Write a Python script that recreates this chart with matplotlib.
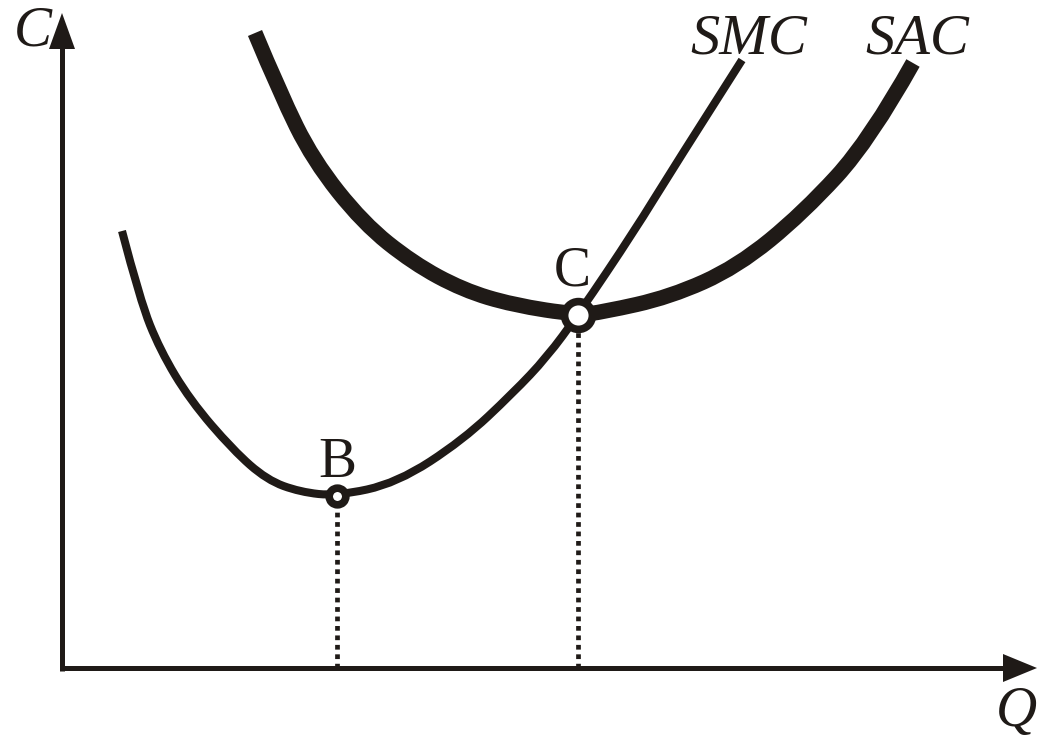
import matplotlib
matplotlib.use("Agg")
import matplotlib.pyplot as plt
from matplotlib.patches import Polygon, PathPatch
from matplotlib.path import Path

# ---- data (in axis units) ----
smc_q = [60, 78, 98, 128, 171, 205, 238, 275, 335, 401, 451, 485, 516, 573, 608, 680]
smc_c = [437, 368, 318, 268, 218, 188, 176, 172, 185, 228, 275, 311, 353, 438, 495, 608]

sac_q = [193, 218, 251, 301, 351, 401, 451, 516, 541, 608, 675, 741, 808, 851]
sac_c = [635, 575, 508, 445, 405, 378, 363, 353, 356, 371, 401, 455, 528, 605]

point_labels = ["B", "C"]
point_q = [275, 516]
point_c = [172, 353]

curve_labels = ["SMC", "SAC"]
axis_labels = ["C", "Q"]

# ---- figure ----
fig = plt.figure(figsize=(10.37, 7.44), dpi=100)
ax = fig.add_axes([0, 0, 1, 1])
ax.set_xlim(-62, 975)
ax.set_ylim(-76, 668)
ax.axis("off")

ink = "#1f1a17"
serif = ["Liberation Serif", "DejaVu Serif"]


def smooth_path(xs, ys):
    """Quadratic Bezier path using the read points as control points."""
    pts = list(zip(xs, ys))
    verts = [pts[0]]
    codes = [Path.MOVETO]
    for i in range(1, len(pts) - 1):
        mid = ((pts[i][0] + pts[i + 1][0]) / 2, (pts[i][1] + pts[i + 1][1]) / 2)
        if i == len(pts) - 2:
            mid = pts[-1]
        verts += [pts[i], mid]
        codes += [Path.CURVE3, Path.CURVE3]
    return Path(verts, codes)


# axes with arrowheads
ax.plot([0, 0], [-2.5, 625], color=ink, lw=3.6, solid_capstyle="butt")
ax.plot([-2.5, 945], [0, 0], color=ink, lw=3.6, solid_capstyle="butt")
ax.add_patch(Polygon([(0, 655), (-13, 619), (13, 619)], closed=True, color=ink, lw=0))
ax.add_patch(Polygon([(975, 0), (941, 14), (941, -14)], closed=True, color=ink, lw=0))

# dotted drop lines
for q, c in zip(point_q, point_c):
    ax.plot([q, q], [0, c - 12], color=ink, lw=3.4, linestyle=(0, (1, 1.0)),
            dash_capstyle="butt")

# curves
ax.add_patch(PathPatch(smooth_path(sac_q, sac_c), fill=False, edgecolor=ink,
                       lw=11.0, capstyle="butt", joinstyle="round"))
ax.add_patch(PathPatch(smooth_path(smc_q, smc_c), fill=False, edgecolor=ink,
                       lw=5.8, capstyle="butt", joinstyle="round"))

# points
ax.plot(point_q[0], point_c[0], "o", ms=12, mfc="white", mec=ink, mew=5.5, zorder=5)
ax.plot(point_q[1], point_c[1], "o", ms=20, mfc="white", mec=ink, mew=5.5, zorder=5)

# point labels
ax.text(point_q[0], 191, point_labels[0], family=serif, fontsize=41,
        ha="center", va="baseline", color=ink)
ax.text(point_q[1] - 6, 383, point_labels[1], family=serif, fontsize=40,
        ha="center", va="baseline", color=ink)

# curve labels
ax.text(687, 615, curve_labels[0], family=serif, style="italic", fontsize=42,
        ha="center", va="baseline", color=ink)
ax.text(855, 615, curve_labels[1], family=serif, style="italic", fontsize=42,
        ha="center", va="baseline", color=ink)

# axis labels
ax.text(-29, 623, axis_labels[0], family=serif, style="italic", fontsize=41,
        ha="center", va="baseline", color=ink)
ax.text(954, -58, axis_labels[1], family=serif, style="italic", fontsize=41,
        ha="center", va="baseline", color=ink)

fig.savefig("out.png", dpi=100, facecolor="white")
